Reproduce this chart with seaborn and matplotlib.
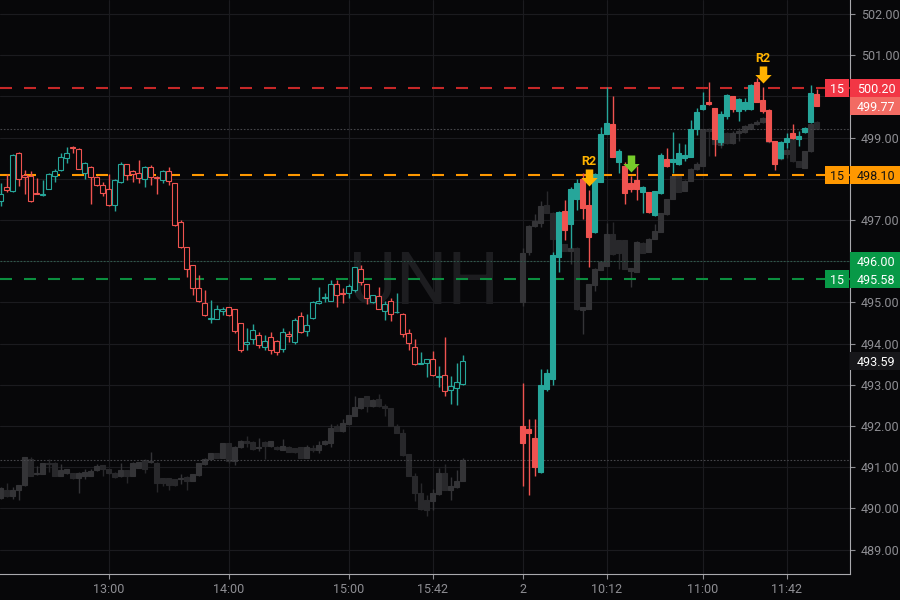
import numpy as np
import pandas as pd
import seaborn as sns
import matplotlib.pyplot as plt
from matplotlib import font_manager
from matplotlib.markers import MarkerStyle
from matplotlib.path import Path
from matplotlib.patches import Rectangle
from matplotlib.transforms import blended_transform_factory

SYMBOL = "UNH"
BAR_MIN = 3
D1_START = "12:06"
D2_START = "9:30"
GAP_BARS = 9  # empty slots between the two sessions

# UNH, previous session, 3-minute bars
d1_open = [497.46, 497.80, 497.70, 498.62, 498.10, 498.08, 497.65, 497.61, 497.76, 498.07,
           498.21, 498.50, 498.78, 498.72, 498.13, 498.29, 498.05, 497.86, 497.76, 497.37,
           497.93, 498.35, 498.20, 498.13, 498.00, 498.29, 498.05, 497.97, 498.20, 497.90,
           496.95, 496.34, 495.90, 495.34, 494.98, 494.61, 494.61, 494.79, 494.88, 494.83,
           494.50, 494.00, 494.12, 494.20, 493.92, 494.15, 494.07, 493.88, 494.23, 494.04,
           494.66, 494.31, 494.63, 494.98, 495.11, 495.04, 495.44, 495.24, 495.22, 495.31,
           495.81, 495.44, 495.02, 495.15, 494.80, 495.04, 494.76, 494.73, 494.27, 493.93,
           493.51, 493.54, 493.62, 493.20, 493.23, 492.87, 492.93, 493.01]
d1_high = [497.90, 498.11, 498.60, 498.65, 498.21, 498.19, 498.02, 497.97, 498.13, 498.24,
           498.62, 498.78, 498.79, 498.74, 498.40, 498.30, 498.06, 497.92, 498.11, 497.99,
           498.41, 498.36, 498.22, 498.45, 498.30, 498.33, 498.06, 498.21, 498.29, 497.91,
           496.99, 496.35, 495.91, 495.66, 495.30, 495.05, 494.93, 494.89, 494.89, 494.84,
           494.51, 494.39, 494.47, 494.28, 494.20, 494.28, 494.10, 494.37, 494.30, 494.63,
           494.78, 494.72, 495.03, 495.37, 495.24, 495.55, 495.55, 495.34, 495.45, 495.86,
           495.91, 495.45, 495.19, 495.37, 495.04, 495.10, 495.23, 494.74, 494.35, 494.11,
           493.80, 493.63, 493.82, 493.46, 494.17, 493.21, 493.52, 493.72]
d1_low = [497.33, 497.67, 497.68, 497.82, 497.62, 497.43, 497.62, 497.58, 497.75, 497.92,
          498.20, 498.39, 498.62, 498.23, 498.00, 497.40, 497.82, 497.58, 497.33, 497.21,
          497.90, 497.97, 497.92, 497.90, 497.80, 497.86, 497.64, 497.89, 497.84, 496.86,
          496.32, 495.61, 495.18, 495.01, 494.67, 494.49, 494.60, 494.69, 494.68, 494.26,
          493.80, 493.85, 494.00, 493.90, 493.85, 493.75, 493.72, 493.80, 494.04, 494.00,
          494.26, 494.19, 494.59, 494.97, 495.02, 495.03, 494.90, 494.98, 495.12, 495.26,
          495.42, 494.96, 494.98, 494.83, 494.58, 494.55, 494.75, 494.17, 493.85, 493.48,
          493.50, 493.20, 493.21, 492.95, 492.72, 492.54, 492.52, 493.00]
d1_close = [497.64, 497.72, 498.57, 498.00, 498.05, 497.46, 497.63, 497.63, 498.11, 498.20,
            498.52, 498.63, 498.75, 498.24, 498.39, 498.04, 497.86, 497.66, 497.37, 497.98,
            498.37, 498.09, 498.11, 498.01, 498.29, 498.05, 498.01, 498.20, 497.94, 496.87,
            496.35, 495.82, 495.36, 495.03, 494.69, 494.63, 494.83, 494.85, 494.69, 494.31,
            493.84, 494.03, 494.33, 493.96, 494.07, 493.85, 493.80, 494.28, 494.18, 494.57,
            494.28, 494.45, 495.02, 495.03, 495.12, 495.44, 495.19, 495.20, 495.39, 495.85,
            495.50, 495.12, 495.18, 494.84, 494.96, 494.72, 494.77, 494.23, 494.02, 493.50,
            493.54, 493.62, 493.23, 493.22, 492.85, 492.97, 493.07, 493.59]

# UNH, current session, 3-minute bars
d2_open = [492.00, 491.92, 491.70, 490.88, 492.89, 493.15, 496.11, 497.21, 496.90, 497.52,
           497.99, 497.36, 496.70, 497.93, 499.09, 499.33, 498.41, 498.30, 497.91, 497.98,
           497.67, 497.67, 497.12, 497.65, 498.49, 498.40, 498.36, 498.51, 498.54, 499.22,
           499.69, 499.86, 499.71, 498.89, 499.53, 500.00, 499.65, 499.69, 499.69, 500.36,
           499.92, 499.68, 498.92, 498.51, 498.89, 499.11, 498.96, 499.14, 499.37, 500.06]
d2_high = [493.04, 492.18, 492.18, 493.39, 493.39, 496.23, 497.22, 497.49, 497.79, 497.99,
           498.15, 497.73, 498.15, 499.25, 500.22, 500.02, 498.72, 498.40, 498.07, 498.30,
           497.82, 497.68, 497.71, 498.62, 498.76, 499.13, 498.87, 498.84, 499.43, 499.73,
           500.10, 500.35, 499.72, 499.65, 500.06, 500.02, 499.95, 499.96, 500.29, 500.45,
           500.22, 499.70, 498.93, 498.92, 499.11, 499.33, 499.16, 499.26, 500.28, 500.17]
d2_low = [490.54, 490.32, 490.79, 490.87, 492.85, 492.99, 495.74, 496.52, 496.33, 497.25,
          497.02, 495.85, 496.68, 497.92, 499.08, 498.52, 498.15, 497.38, 497.67, 497.49,
          497.18, 497.17, 497.09, 497.64, 498.28, 498.15, 498.34, 498.44, 498.53, 499.06,
          499.68, 499.78, 498.55, 498.81, 499.45, 499.61, 499.41, 499.64, 499.66, 499.86,
          499.60, 498.90, 498.22, 498.48, 498.76, 498.96, 498.80, 499.12, 499.36, 499.77]
d2_close = [491.60, 491.82, 491.00, 492.99, 493.30, 496.15, 497.20, 496.76, 497.75, 497.91,
            497.29, 496.59, 498.11, 499.09, 499.35, 498.54, 498.68, 497.65, 497.75, 497.75,
            497.81, 497.20, 497.70, 498.57, 498.30, 498.48, 498.62, 498.57, 499.22, 499.63,
            499.78, 499.82, 498.96, 499.57, 500.04, 499.69, 499.94, 499.86, 500.27, 499.87,
            499.65, 498.92, 498.37, 498.89, 499.00, 498.98, 499.04, 499.24, 500.09, 499.77]

# comparison symbol (grey), previous session
c1_open = [490.26, 490.46, 490.30, 490.44, 490.56, 491.21, 490.84, 490.84, 491.11, 491.11,
           490.80, 490.85, 490.85, 490.74, 490.79, 490.79, 490.93, 491.05, 490.95, 490.87,
           490.78, 490.93, 490.80, 490.99, 491.18, 491.13, 491.11, 490.73, 490.73, 490.71,
           490.71, 490.77, 490.67, 490.81, 491.07, 491.20, 491.34, 491.23, 491.59, 491.15,
           491.48, 491.63, 491.62, 491.46, 491.62, 491.51, 491.50, 491.42, 491.50, 491.46,
           491.48, 491.23, 491.47, 491.42, 491.56, 491.60, 492.01, 491.87, 492.05, 492.25,
           492.43, 492.72, 492.48, 492.66, 492.48, 492.43, 492.01, 491.83, 491.32, 490.79,
           490.37, 490.20, 490.18, 490.34, 490.85, 490.46, 490.53, 490.67]
c1_high = [490.53, 490.61, 490.53, 490.58, 491.26, 491.24, 491.02, 491.11, 491.20, 491.12,
           491.07, 490.97, 490.87, 490.88, 490.95, 490.97, 491.07, 491.06, 490.96, 490.88,
           491.11, 490.94, 491.12, 491.14, 491.19, 491.37, 491.12, 490.74, 490.74, 490.72,
           490.83, 490.78, 490.84, 491.11, 491.22, 491.35, 491.35, 491.60, 491.60, 491.51,
           491.65, 491.76, 491.63, 491.72, 491.63, 491.64, 491.51, 491.68, 491.51, 491.47,
           491.49, 491.54, 491.54, 491.64, 491.66, 492.05, 492.05, 492.17, 492.28, 492.74,
           492.68, 492.73, 492.65, 492.78, 492.54, 492.44, 492.05, 491.93, 491.33, 490.87,
           490.61, 490.32, 490.48, 490.99, 491.07, 490.77, 490.93, 491.23]
c1_low = [490.22, 490.29, 490.22, 490.20, 490.54, 490.78, 490.82, 490.83, 490.89, 490.78,
          490.79, 490.84, 490.72, 490.37, 490.71, 490.78, 490.92, 490.79, 490.84, 490.75,
          490.77, 490.61, 490.79, 490.98, 490.85, 491.10, 490.40, 490.54, 490.46, 490.55,
          490.59, 490.46, 490.66, 490.80, 491.06, 491.19, 491.22, 491.22, 491.11, 491.05,
          491.47, 491.48, 491.43, 491.40, 491.20, 491.50, 491.43, 491.41, 491.37, 491.35,
          491.22, 491.22, 491.36, 491.34, 491.55, 491.48, 491.88, 491.86, 492.04, 492.24,
          492.42, 492.33, 492.47, 492.47, 492.24, 492.00, 491.82, 491.28, 490.79, 490.18,
          489.97, 489.81, 489.96, 490.33, 490.44, 490.20, 490.50, 490.66]
c1_close = [490.50, 490.30, 490.46, 490.56, 491.24, 490.80, 490.87, 491.10, 491.07, 490.80,
            490.93, 490.95, 490.74, 490.87, 490.89, 490.90, 491.02, 490.95, 490.85, 490.76,
            490.93, 490.80, 491.11, 491.13, 490.97, 491.15, 490.61, 490.61, 490.56, 490.56,
            490.73, 490.67, 490.83, 491.10, 491.21, 491.34, 491.23, 491.59, 491.15, 491.50,
            491.64, 491.60, 491.44, 491.50, 491.52, 491.63, 491.44, 491.52, 491.38, 491.36,
            491.23, 491.48, 491.42, 491.54, 491.63, 491.95, 491.89, 492.07, 492.27, 492.46,
            492.67, 492.48, 492.64, 492.48, 492.43, 492.01, 491.83, 491.29, 490.80, 490.38,
            489.98, 489.96, 490.38, 490.85, 490.45, 490.54, 490.66, 491.17]

# comparison symbol (grey), current session
c2_open = [495.01, 496.23, 496.86, 496.94, 497.36, 497.18, 496.53, 496.41, 496.25, 496.33,
           494.82, 494.85, 495.42, 495.79, 495.89, 496.66, 496.51, 496.51, 495.77, 495.74,
           496.45, 496.23, 496.55, 496.71, 497.14, 497.52, 498.06, 497.71, 497.95, 498.23,
           498.32, 499.22, 499.08, 498.81, 499.12, 498.86, 499.11, 499.14, 499.22, 499.33,
           499.37, 499.37, 498.92, 498.88, 498.60, 498.96, 498.43, 498.27, 498.67, 499.37]
c2_high = [496.31, 496.88, 497.14, 497.47, 497.71, 497.19, 496.62, 496.43, 496.35, 496.34,
           494.90, 495.45, 495.83, 495.98, 496.92, 496.95, 496.52, 496.52, 495.84, 496.48,
           496.46, 496.56, 496.90, 497.18, 497.52, 498.07, 498.07, 497.96, 498.26, 498.40,
           499.22, 499.23, 499.09, 499.18, 499.14, 499.15, 499.24, 499.30, 499.35, 499.42,
           499.49, 499.38, 498.93, 498.89, 498.75, 498.97, 498.44, 498.68, 499.34, 499.40]
c2_low = [494.91, 496.15, 496.84, 496.82, 497.17, 496.21, 496.25, 496.24, 495.93, 494.82,
          494.23, 494.84, 495.28, 495.78, 495.88, 496.16, 495.81, 495.80, 495.38, 495.73,
          496.20, 496.22, 496.54, 496.70, 497.13, 497.51, 497.67, 497.70, 497.94, 498.22,
          498.30, 498.55, 498.80, 498.75, 498.85, 498.85, 498.92, 499.12, 499.20, 499.30,
          499.35, 498.88, 498.38, 498.46, 498.50, 498.42, 498.28, 498.26, 498.66, 499.20]
c2_close = [496.21, 496.86, 496.98, 497.34, 497.18, 496.53, 496.39, 496.25, 496.33, 494.83,
            494.89, 495.44, 495.82, 495.97, 496.66, 496.17, 496.21, 495.81, 495.83, 496.47,
            496.21, 496.55, 496.74, 497.17, 497.51, 498.06, 497.68, 497.95, 498.25, 498.36,
            499.22, 499.16, 498.84, 499.16, 498.86, 499.12, 499.16, 499.29, 499.33, 499.38,
            499.47, 498.89, 498.39, 498.47, 498.70, 498.43, 498.29, 498.67, 499.33, 499.22]

# order levels (price, filled count) and other tagged prices
level_prices = [500.20, 498.10, 495.58]
level_counts = ["15", "15", "15"]
alert_price = 496.00

# signal arrows on the current session
sig_times = ["10:03", "10:24", "11:30"]
sig_labels = ["R2", "", "R2"]

tick_days = [1, 1, 1, 1, 2, 2, 2, 2]
tick_times = ["13:00", "14:00", "15:00", "15:42", "9:30", "10:12", "11:00", "11:42"]
tick_labels = ["13:00", "14:00", "15:00", "15:42", "2", "10:12", "11:00", "11:42"]
price_ticks = list(range(489, 503))
hidden_ticks = [500, 498, 496]  # covered by the price tags

BG = "#070709"
GRID = "#1b1b1f"
TXT = "#8e8e93"
UP, DN = "#26a69a", "#ef5350"
LEVEL_COLORS = ["#c62828", "#ff9800", "#0b8f3f"]
TAG_COLORS = ["#f23645", "#ff9800", "#089947"]
TAG_TEXT = ["white", "#131313", "white"]
SIG_COLORS = ["#ffb300", "#76cc2a", "#ffb300"]

sns.set_style("dark", {"axes.facecolor": BG, "figure.facecolor": BG,
                       "grid.color": GRID, "axes.edgecolor": "#a9a9ad"})
names = {f.name for f in font_manager.fontManager.ttflist}
NARROW = "Liberation Sans Narrow" in names
FONT = "Liberation Sans Narrow" if NARROW else "Roboto"
plt.rcParams["font.family"] = [FONT, "DejaVu Sans"]


def to_min(s):
    h, m = s.split(":")
    return int(h) * 60 + int(m)


def slot(day, t):
    if day == 1:
        return (to_min(t) - to_min(D1_START)) / BAR_MIN
    return len(d1_close) + GAP_BARS + (to_min(t) - to_min(D2_START)) / BAR_MIN


def frame(o, h, l, c, start):
    return pd.DataFrame({"x": start + np.arange(len(c)), "open": o, "high": h, "low": l, "close": c})


main1 = frame(d1_open, d1_high, d1_low, d1_close, 0)
main2 = frame(d2_open, d2_high, d2_low, d2_close, slot(2, D2_START))
cmp1 = frame(c1_open, c1_high, c1_low, c1_close, 0)
cmp2 = frame(c2_open, c2_high, c2_low, c2_close, slot(2, D2_START))


def candles(ax, df, up_c, dn_c, hollow=False, width=0.72, z=3):
    up = (df["close"] >= df["open"]).to_numpy()
    edge = np.where(up, up_c, dn_c)
    face = np.full(len(df), BG) if hollow else edge
    ax.vlines(df["x"], df["low"], df["high"], colors=edge, lw=1.0, zorder=z)
    bottom = np.minimum(df["open"], df["close"])
    height = np.maximum((df["close"] - df["open"]).abs(), 0.02)
    ax.bar(df["x"], height, bottom=bottom, width=width, color=face,
           edgecolor=edge, linewidth=0.8, zorder=z + 0.1)


fig = plt.figure(figsize=(9, 6), dpi=100)
ax = fig.add_axes([0, 26 / 600, 850 / 900, 574 / 600])
ax.set_facecolor(BG)

XMIN = -0.1
YMIN, YMAX = 488.41, 502.34
ax.set_xlim(XMIN, XMIN + 850 / 6)
ax.set_ylim(YMIN, YMAX)

ax.text(0.499, 0.472, SYMBOL, transform=ax.transAxes, ha="center", va="baseline",
        fontsize=60 if NARROW else 52, color="#1d1d20", zorder=0.8)

# grey comparison symbol underneath
for df in (cmp1, cmp2):
    candles(ax, df, "#343437", "#28282b", width=0.72, z=2)

# dotted reference lines
ax.axhline(c1_close[-1], color="#46464a", lw=0.8, dashes=(1.5, 1.5), zorder=2.4)
ax.axhline(c2_close[-1], color="#46464a", lw=0.8, dashes=(1.5, 1.5), zorder=2.4)
ax.axhline(alert_price, color="#2f5a4b", lw=0.8, dashes=(1.5, 1.5), zorder=2.4)

# dashed order levels
for p, col in zip(level_prices, LEVEL_COLORS):
    ax.axhline(p, color=col, lw=1.5, dashes=(5.76, 5.76), zorder=2.5)

candles(ax, main1, UP, DN, hollow=True, width=0.72, z=3)
candles(ax, main2, UP, DN, hollow=False, width=0.76, z=3)

# signal arrows
arrow = Path([(-0.22, 1.0), (0.22, 1.0), (0.22, 0.5), (0.48, 0.5), (0.0, 0.0),
              (-0.48, 0.5), (-0.22, 0.5), (-0.22, 1.0)],
             [Path.MOVETO] + [Path.LINETO] * 6 + [Path.CLOSEPOLY])
for t, lab, col in zip(sig_times, sig_labels, SIG_COLORS):
    sx = slot(2, t)
    tip = main2.loc[main2["x"] == sx, "high"].iloc[0] + 0.1
    ax.plot([sx], [tip], marker=MarkerStyle(arrow), ms=24.5, mfc=col, mec="none",
            ls="none", zorder=6)
    if lab:
        ax.annotate(lab, xy=(sx, tip), xytext=(0, 21), textcoords="offset pixels",
                    ha="center", va="baseline", color=col, fontsize=9, weight="bold",
                    zorder=6)

# axes, ticks, grid
ax.set_yticks(price_ticks)
ax.yaxis.tick_right()
ax.set_yticklabels(["" if v in hidden_ticks else f"{v:.2f}" for v in price_ticks])
ax.set_xticks([slot(d, t) for d, t in zip(tick_days, tick_times)])
ax.set_xticklabels(tick_labels)
ax.tick_params(axis="y", colors=TXT, labelsize=9, length=3.5, width=0.8, pad=4.5, right=True)
ax.tick_params(axis="x", colors=TXT, labelsize=9, length=3.5, width=0.8, pad=3, bottom=True)
ax.grid(True, color=GRID, lw=0.8)
ax.set_axisbelow(True)
for s in ("left", "top"):
    ax.spines[s].set_visible(False)
for s in ("right", "bottom"):
    ax.spines[s].set_color("#a9a9ad")
    ax.spines[s].set_linewidth(0.8)

# price tags on the right scale
trans = blended_transform_factory(ax.transAxes, ax.transData)
half = 9 * (YMAX - YMIN) / 574


def tag(price, face, fg, count=None):
    ax.add_patch(Rectangle((1.0, price - half), 50 / 850, 2 * half, transform=trans,
                           facecolor=face, edgecolor="none", clip_on=False, zorder=20))
    ax.text(1.0 + 26 / 850, price, f"{price:.2f}", transform=trans, ha="center",
            va="center_baseline", color=fg, fontsize=9, clip_on=False, zorder=21)
    if count:
        ax.add_patch(Rectangle((825 / 850, price - half), 24 / 850, 2 * half, transform=trans,
                               facecolor=face, edgecolor="none", clip_on=False, zorder=20))
        ax.text(837 / 850, price, count, transform=trans, ha="center",
                va="center_baseline", color=fg, fontsize=9, clip_on=False, zorder=21)


tag(d1_close[-1], "#17171a", "white")
tag(alert_price, TAG_COLORS[2], "white")
tag(level_prices[2], TAG_COLORS[2], TAG_TEXT[2], level_counts[2])
tag(level_prices[1], TAG_COLORS[1], TAG_TEXT[1], level_counts[1])
tag(d2_close[-1], "#f26b63", "white")
tag(level_prices[0], TAG_COLORS[0], TAG_TEXT[0], level_counts[0])

fig.savefig("out.png", dpi=100, facecolor=BG)
